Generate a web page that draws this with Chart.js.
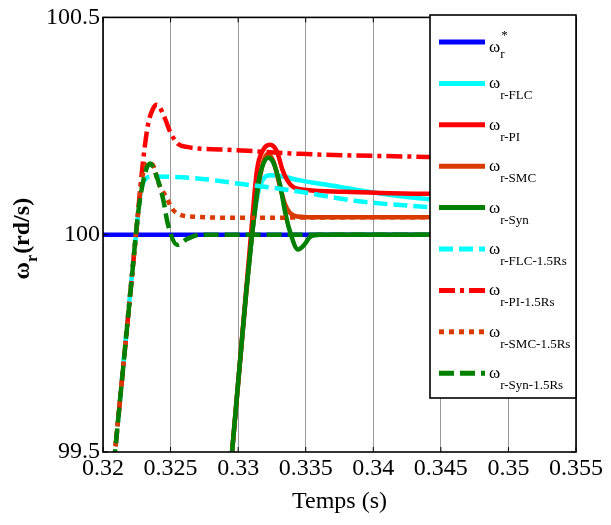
<!DOCTYPE html>
<html lang="fr">
<head>
<meta charset="UTF-8">
<title>Vitesse rotorique</title>
<script src="https://cdn.jsdelivr.net/npm/chart.js"></script>
<style>
  html, body { margin: 0; padding: 0; background: #fff; }
  #wrap { width: 611px; height: 525px; position: relative; }
</style>
</head>
<body>
<div id="wrap"><canvas id="speed-chart"></canvas></div>
<script>
// axes
const xTicks = [0.32, 0.325, 0.33, 0.335, 0.34, 0.345, 0.35, 0.355];
const xTickLabels = ['0.32', '0.325', '0.33', '0.335', '0.34', '0.345', '0.35', '0.355'];
const yTicks = [99.5, 100, 100.5];
const yTickLabels = ['99.5', '100', '100.5'];

// reference speed
const tRef = [0.32, 0.355];
const wRef = [100, 100];

// nominal Rs (step at ~0.33 s)
const tFLC = [0.32925, 0.32955, 0.33103, 0.3315, 0.3319, 0.33236, 0.3331, 0.33458, 0.33754, 0.3405, 0.34398, 0.355];
const wFLC = [99.4, 99.5, 100.0, 100.1, 100.13, 100.137, 100.135, 100.125, 100.11, 100.095, 100.082, 100.06];

const tPI = [0.32925, 0.32955, 0.33095, 0.3314, 0.33185, 0.33236, 0.33288, 0.33325, 0.33362, 0.33406, 0.3351, 0.33776, 0.34398, 0.355];
const wPI = [99.4, 99.5, 100.0, 100.15, 100.195, 100.207, 100.191, 100.152, 100.126, 100.11, 100.103, 100.099, 100.094, 100.09];

const tSMC = [0.32925, 0.32955, 0.33103, 0.3316, 0.33215, 0.3326, 0.3331, 0.33347, 0.33384, 0.33436, 0.33606, 0.355];
const wSMC = [99.4, 99.5, 100.0, 100.13, 100.185, 100.17, 100.11, 100.07, 100.05, 100.042, 100.04, 100.04];

const tSyn = [0.32925, 0.32955, 0.3306, 0.33103, 0.3315, 0.33177, 0.33221, 0.33258, 0.3331, 0.33347, 0.33384, 0.33443, 0.33495, 0.33532, 0.33606, 0.355];
const wSyn = [99.4, 99.5, 99.87, 100.0, 100.12, 100.155, 100.177, 100.168, 100.115, 100.053, 100.007, 99.966, 99.979, 99.995, 100.0, 100.0];

// 1.5 Rs (step at ~0.321 s)
const tFLC15 = [0.3205, 0.32089, 0.32244, 0.3228, 0.3232, 0.3236, 0.32718, 0.33014, 0.33257, 0.33457, 0.33864, 0.34397, 0.355];
const wFLC15 = [99.376, 99.5, 100.0, 100.1, 100.13, 100.134, 100.129, 100.117, 100.108, 100.099, 100.078, 100.064, 100.05];

const tPI15 = [0.3205, 0.32089, 0.32244, 0.32296, 0.32333, 0.3237, 0.32399, 0.32459, 0.32496, 0.32555, 0.32621, 0.32718, 0.32962, 0.33457, 0.34397, 0.355];
const wPI15 = [99.376, 99.5, 100.0, 100.168, 100.253, 100.29, 100.299, 100.267, 100.237, 100.209, 100.202, 100.198, 100.195, 100.186, 100.179, 100.172];

const tSMC15 = [0.3205, 0.32089, 0.32244, 0.3229, 0.3233, 0.3237, 0.3241, 0.32474, 0.32511, 0.3257, 0.32696, 0.33, 0.34, 0.355];
const wSMC15 = [99.376, 99.5, 100.0, 100.13, 100.165, 100.16, 100.12, 100.083, 100.06, 100.046, 100.041, 100.039, 100.04, 100.04];

const tSyn15 = [0.3205, 0.32089, 0.3221, 0.3226, 0.3231, 0.32348, 0.3239, 0.32444, 0.32481, 0.32548, 0.32622, 0.32718, 0.3355, 0.355];
const wSyn15 = [99.376, 99.5, 99.89, 100.05, 100.14, 100.164, 100.14, 100.083, 100.023, 99.977, 99.99, 100.0, 100.0, 100.0];

const legendSubs = ['r', 'r-FLC', 'r-PI', 'r-SMC', 'r-Syn', 'r-FLC-1.5Rs', 'r-PI-1.5Rs', 'r-SMC-1.5Rs', 'r-Syn-1.5Rs'];

const serif = '"Liberation Serif", "Times New Roman", serif';
const BLUE = '#0000ff', CYAN = '#00ffff', RED = '#ff0000', ORANGE = '#d93a00', GREEN = '#008000';

function pts(t, w) {
    return t.map((x, i) => ({ x: x, y: w[i] }));
}

const series = [
    { t: tRef, w: wRef, color: BLUE, dash: [] },
    { t: tFLC, w: wFLC, color: CYAN, dash: [] },
    { t: tPI, w: wPI, color: RED, dash: [] },
    { t: tSMC, w: wSMC, color: ORANGE, dash: [] },
    { t: tSyn, w: wSyn, color: GREEN, dash: [] },
    { t: tFLC15, w: wFLC15, color: CYAN, dash: [14, 6] },
    { t: tPI15, w: wPI15, color: RED, dash: [16, 5, 4, 5] },
    { t: tSMC15, w: wSMC15, color: ORANGE, dash: [5, 5] },
    { t: tSyn15, w: wSyn15, color: GREEN, dash: [15, 6] }
];

const datasets = series.map((s, i) => ({
    label: 'ω' + legendSubs[i],
    data: pts(s.t, s.w),
    borderColor: s.color,
    borderDash: s.dash,
    borderWidth: 4.5,
    pointRadius: 0,
    fill: false,
    cubicInterpolationMode: 'monotone',
    order: series.length - i   // first dataset at the bottom, like matlab
}));

// box, inward tick marks, legend and y title
const framePlugin = {
    id: 'frame',
    afterDatasetsDraw(chart) {
        const { ctx, chartArea: a, scales } = chart;
        ctx.save();
        ctx.strokeStyle = '#000';
        ctx.lineWidth = 1;
        ctx.setLineDash([]);
        scales.x.ticks.forEach(tk => {
            const px = scales.x.getPixelForValue(tk.value);
            ctx.beginPath();
            ctx.moveTo(px, a.bottom); ctx.lineTo(px, a.bottom - 5);
            ctx.moveTo(px, a.top); ctx.lineTo(px, a.top + 5);
            ctx.stroke();
        });
        scales.y.ticks.forEach(tk => {
            const py = scales.y.getPixelForValue(tk.value);
            ctx.beginPath();
            ctx.moveTo(a.left, py); ctx.lineTo(a.left + 5, py);
            ctx.moveTo(a.right, py); ctx.lineTo(a.right - 5, py);
            ctx.stroke();
        });
        ctx.lineWidth = 1.6;
        ctx.strokeRect(a.left, a.top, a.right - a.left, a.bottom - a.top);
        ctx.restore();
    },
    afterDraw(chart) {
        const { ctx, chartArea: a } = chart;
        ctx.save();

        // legend
        const lx0 = 430, ly0 = 15, lx1 = a.right, ly1 = 398;
        ctx.fillStyle = '#fff';
        ctx.fillRect(lx0, ly0, lx1 - lx0, ly1 - ly0);
        ctx.strokeStyle = '#000';
        ctx.lineWidth = 1.6;
        ctx.setLineDash([]);
        ctx.strokeRect(lx0, ly0, lx1 - lx0, ly1 - ly0);

        chart.data.datasets.forEach((ds, i) => {
            const ry = 42 + i * 41.4;
            ctx.beginPath();
            ctx.strokeStyle = ds.borderColor;
            ctx.lineWidth = 5;
            ctx.setLineDash(ds.borderDash || []);
            ctx.moveTo(439, ry);
            ctx.lineTo(485, ry);
            ctx.stroke();

            ctx.fillStyle = '#000';
            ctx.textBaseline = 'alphabetic';
            ctx.textAlign = 'left';
            ctx.font = '17px ' + serif;
            const wy = i === 0 ? ry + 10 : ry + 5;
            ctx.fillText('ω', 489, wy);
            const ww = ctx.measureText('ω').width;
            ctx.font = '13px ' + serif;
            ctx.fillText(legendSubs[i], 489 + ww, ry + 16);
            if (i === 0) ctx.fillText('*', 490 + ww, ry - 3);
        });
        ctx.setLineDash([]);

        // y title with subscript
        ctx.fillStyle = '#000';
        ctx.font = 'bold 24px ' + serif;
        const w1 = ctx.measureText('ω').width;
        const w3 = ctx.measureText('(rd/s)').width;
        ctx.font = 'bold 16px ' + serif;
        const w2 = ctx.measureText('r').width;
        const total = w1 + w2 + 1 + w3;
        const cy = (a.top + a.bottom) / 2 + 4;
        ctx.translate(29, cy + total / 2);
        ctx.rotate(-Math.PI / 2);
        ctx.textBaseline = 'alphabetic';
        ctx.textAlign = 'left';
        ctx.font = 'bold 24px ' + serif;
        ctx.fillText('ω', 0, 0);
        ctx.font = 'bold 16px ' + serif;
        ctx.fillText('r', w1, 8);
        ctx.font = 'bold 24px ' + serif;
        ctx.fillText('(rd/s)', w1 + w2 + 1, 0);
        ctx.restore();
    }
};

const ctx = document.getElementById('speed-chart').getContext('2d');
new Chart(ctx, {
    type: 'line',
    data: { datasets: datasets },
    options: {
        responsive: true,
        maintainAspectRatio: false,
        animation: false,
        layout: { padding: { left: 0, right: 35, top: 17, bottom: 0 } },
        plugins: {
            legend: { display: false },
            tooltip: { enabled: false }
        },
        scales: {
            x: {
                type: 'linear',
                min: 0.32,
                max: 0.355,
                afterBuildTicks: s => { s.ticks = xTicks.map(v => ({ value: v })); },
                afterFit: s => { s.height = 73; },
                border: { display: false },
                grid: { color: '#999', lineWidth: 1, drawTicks: false, tickLength: 0 },
                ticks: {
                    autoSkip: false,
                    maxRotation: 0,
                    padding: 2,
                    color: '#000',
                    font: { family: serif, size: 24 },
                    callback: (v, i) => xTickLabels[i]
                },
                title: {
                    display: true,
                    text: 'Temps (s)',
                    color: '#000',
                    font: { family: serif, size: 24 },
                    padding: { top: 0, bottom: 9 }
                }
            },
            y: {
                min: 99.5,
                max: 100.5,
                afterBuildTicks: s => { s.ticks = yTicks.map(v => ({ value: v })); },
                afterFit: s => { s.width = 103; },
                border: { display: false },
                grid: { display: false, drawTicks: false, tickLength: 0 },
                ticks: {
                    padding: 3,
                    color: '#000',
                    font: { family: serif, size: 24 },
                    callback: (v, i) => yTickLabels[i]
                }
            }
        }
    },
    plugins: [framePlugin]
});
</script>
</body>
</html>
